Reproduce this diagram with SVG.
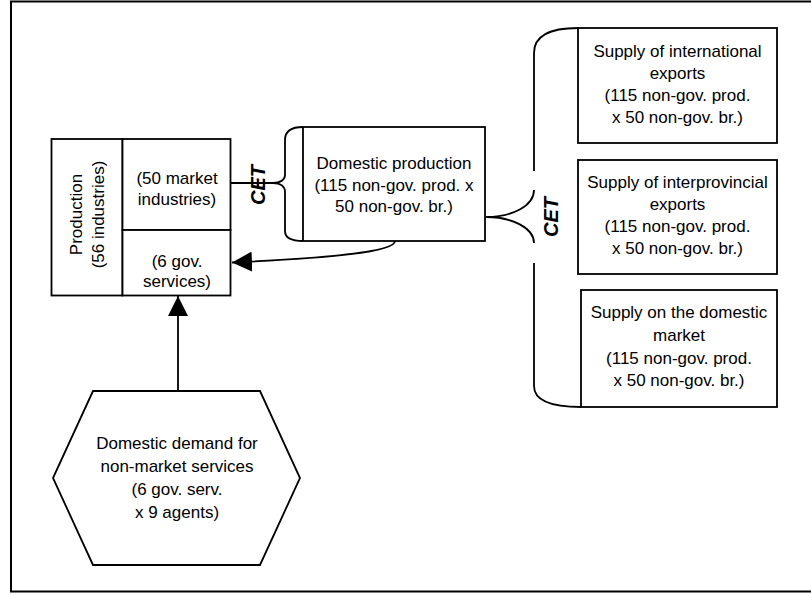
<svg xmlns="http://www.w3.org/2000/svg" width="811" height="595" viewBox="0 0 811 595">
  <defs>
    <style>
      .box { fill: #ffffff; stroke: #000000; stroke-width: 1.8; }
      .line { fill: none; stroke: #000000; stroke-width: 1.8; }
      .lbl { font-family: "Liberation Sans", Arial, sans-serif; font-size: 17px; fill: #000000; text-anchor: middle; }
      .cet { font-family: "Liberation Sans", Arial, sans-serif; font-size: 20px; font-weight: bold; font-style: italic; fill: #000000; text-anchor: middle; }
    </style>
    <marker id="arrow" markerUnits="userSpaceOnUse" viewBox="0 0 20 20" refX="20" refY="10" markerWidth="20" markerHeight="20" orient="auto">
      <path d="M0,0 L20,10 L0,20 Z" fill="#000000"/>
    </marker>
  </defs>

  <!-- outer frame -->
  <rect x="11" y="1.5" width="820" height="590" fill="#ffffff" stroke="#000000" stroke-width="2"/>

  <!-- production block -->
  <g id="production">
    <rect class="box" x="51.5" y="139" width="71" height="156.5"/>
    <text class="lbl" transform="translate(81.5 214.5) rotate(-90)">Production</text>
    <text class="lbl" transform="translate(104 214.5) rotate(-90)">(56 industries)</text>
  </g>
  <g id="market-industries">
    <rect class="box" x="122.5" y="139" width="108" height="91"/>
    <text class="lbl" x="177" y="183.5">(50 market</text>
    <text class="lbl" x="177" y="205">industries)</text>
  </g>
  <g id="gov-services">
    <rect class="box" x="122.5" y="230" width="108" height="65.5"/>
    <text class="lbl" x="177" y="267">(6 gov.</text>
    <text class="lbl" x="177" y="287">services)</text>
  </g>

  <!-- domestic production -->
  <g id="domestic-production">
    <rect class="box" x="303" y="127" width="182" height="114"/>
    <text class="lbl" x="394" y="168.5">Domestic production</text>
    <text class="lbl" x="394" y="190.5">(115 non-gov. prod. x</text>
    <text class="lbl" x="394" y="212">50 non-gov. br.)</text>
  </g>

  <!-- supply destinations -->
  <g id="supply-international">
    <rect class="box" x="578" y="28" width="199" height="115"/>
    <text class="lbl" x="677.5" y="57">Supply of international</text>
    <text class="lbl" x="677.5" y="79">exports</text>
    <text class="lbl" x="677.5" y="101">(115 non-gov. prod.</text>
    <text class="lbl" x="677.5" y="123">x 50 non-gov. br.)</text>
  </g>
  <g id="supply-interprovincial">
    <rect class="box" x="578" y="160" width="199" height="114"/>
    <text class="lbl" x="677.5" y="188">Supply of interprovincial</text>
    <text class="lbl" x="677.5" y="210">exports</text>
    <text class="lbl" x="677.5" y="232">(115 non-gov. prod.</text>
    <text class="lbl" x="677.5" y="254">x 50 non-gov. br.)</text>
  </g>
  <g id="supply-domestic">
    <rect class="box" x="581" y="290" width="196" height="117"/>
    <text class="lbl" x="679" y="318">Supply on the domestic</text>
    <text class="lbl" x="679" y="341">market</text>
    <text class="lbl" x="679" y="364">(115 non-gov. prod.</text>
    <text class="lbl" x="679" y="386">x 50 non-gov. br.)</text>
  </g>

  <!-- non-market demand -->
  <g id="nonmarket-demand">
    <polygon class="box" points="93,391 260,391 300,478 260,565 93,565 53,478"/>
    <text class="lbl" x="177" y="449">Domestic demand for</text>
    <text class="lbl" x="177" y="472">non-market services</text>
    <text class="lbl" x="177" y="495">(6 gov. serv.</text>
    <text class="lbl" x="177" y="517.5">x 9 agents)</text>
  </g>

  <!-- connectors -->
  <g id="connectors">
    <!-- market industries feeding the first CET brace -->
    <path class="line" d="M230.5,183 L273,183"/>
    <path class="line" d="M303,127 C292,127 285,130 285,140 L285,175 C285,180 280,183 273,183 C280,183 285,186 285,192 L285,231 C285,238 292,241 303,241"/>
    <text class="cet" transform="translate(265 185) rotate(-90)">CET</text>

    <!-- second CET brace splitting domestic production -->
    <path class="line" d="M578,28 C550,28 534,36 534,53 L534,171"/>
    <path class="line" d="M534,190 C534,206 512,217 486,217 C512,217 534,228 534,243"/>
    <path class="line" d="M534,263 L534,386 C534,400 550,407 581,407"/>
    <text class="cet" transform="translate(558 217) rotate(-90)">CET</text>

    <!-- domestic production back to government services -->
    <path class="line" d="M395,241 C395,252 330,258 232,262.5" marker-end="url(#arrow)"/>

    <!-- non-market demand up to government services -->
    <path class="line" d="M178,391 L178,296" marker-end="url(#arrow)"/>
  </g>
</svg>
